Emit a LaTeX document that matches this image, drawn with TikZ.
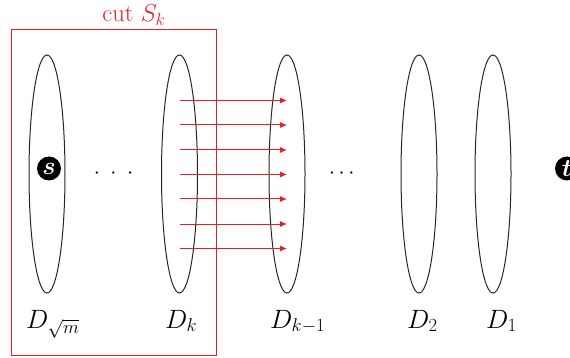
\RequirePackage{fix-cm}
\documentclass[tikz,border=0pt]{standalone}
\usepackage{amsmath,amssymb}
\usetikzlibrary{shapes.geometric,arrows.meta}
\definecolor{cutred}{RGB}{236,28,36}
\begin{document}
\begin{tikzpicture}[x=1pt,y=-1pt,
  setell/.style={draw=black!85,line width=1pt,ellipse,minimum width=36pt,minimum height=238pt,inner sep=0pt},
  term/.style={circle,fill=black,minimum size=24pt,inner sep=0pt,text=white,font=\fontsize{25}{29}\selectfont},
  setlab/.style={anchor=base west,inner sep=0pt,font=\fontsize{26.5}{30}\selectfont},
  cutarrow/.style={draw=cutred,line width=1pt,-{Latex[length=7pt,width=6pt]}},
  dotsnode/.style={inner sep=0pt,font=\fontsize{22}{26}\selectfont}]
\clip (0,0) rectangle (570,358);
\useasboundingbox (0,0) rectangle (570,358);
% cut rectangle
\node[draw=cutred,line width=1pt,minimum width=205pt,minimum height=325pt,inner sep=0pt] (cut) at (113.5,192.5) {};
\node[text=cutred,font=\fontsize{24.5}{28}\selectfont,inner sep=0pt] (cutlab) at (134,15) {cut $S_k$};
% sets
\node[setell] (Dm) at (47,174) {};
\node[setell] (Dk) at (179.5,174) {};
\node[setell] (Dk1) at (287,174) {};
\node[setell] (D2) at (419,174) {};
\node[setell] (D1) at (493,174) {};
% terminals
\node[term] (s) at (49,168.5) {$\boldsymbol{s}$};
\node[term] (t) at (567,168.5) {$\boldsymbol{t}$};
% dots
\node[dotsnode] (dotsA) at (113.5,174) {${\cdot}\hspace{10.5pt}{\cdot}\hspace{10.5pt}{\cdot}$};
\node[dotsnode] (dotsB) at (343.5,174) {$\cdots$};
% labels
\node[setlab] (lDm) at (26,328) {$D_{\sqrt{m}}$};
\node[setlab] (lDk) at (165,328) {$D_k$};
\node[setlab] (lDk1) at (270,328) {$D_{k-1}$};
\node[setlab] (lD2) at (407,328) {$D_2$};
\node[setlab] (lD1) at (486,328) {$D_1$};
% arrows
\foreach \i/\yy in {1/100.5,2/125,3/150,4/174.5,5/199,6/224,7/248.5}{
  \coordinate (a\i) at (Dk.center |- 0,\yy);
  \coordinate (b\i) at (Dk1.center |- 0,\yy);
  \draw[cutarrow] (a\i) -- (b\i);
}
\end{tikzpicture}
\end{document}
